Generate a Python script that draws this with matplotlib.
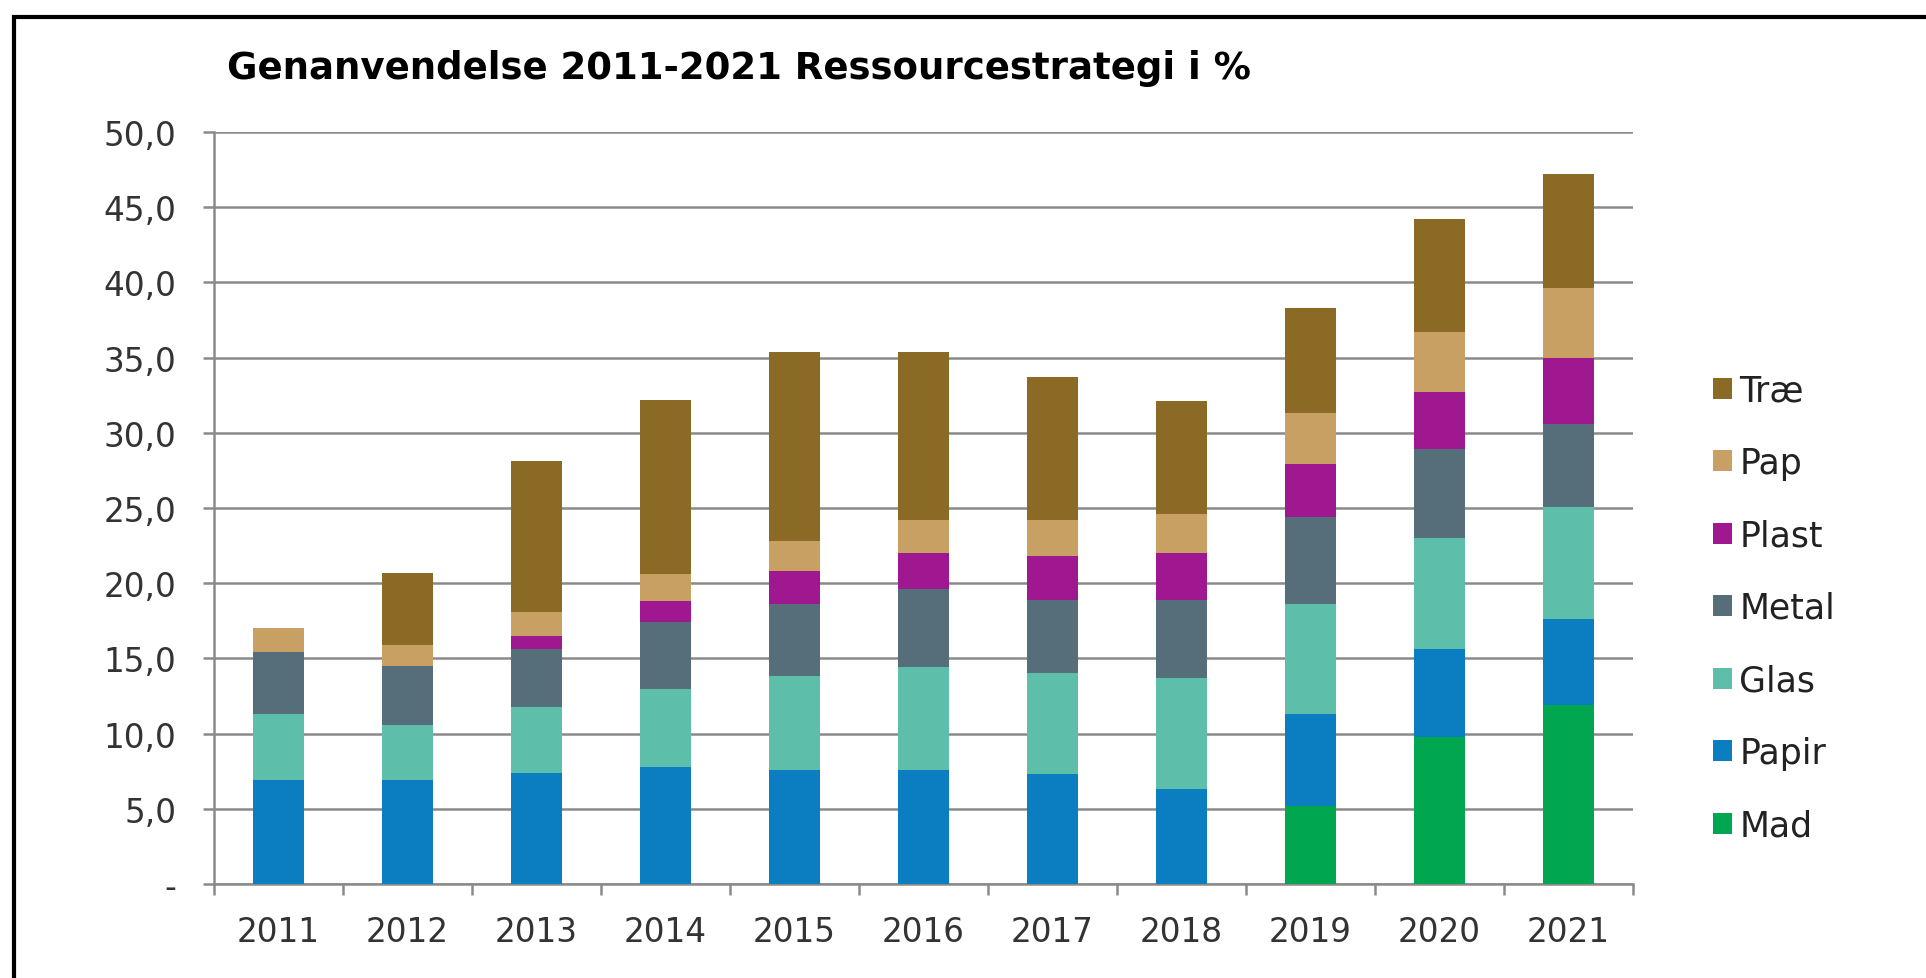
import numpy as np
import matplotlib
matplotlib.use('Agg')
import matplotlib.pyplot as plt
from matplotlib.patches import Rectangle

years = ['2011', '2012', '2013', '2014', '2015', '2016', '2017', '2018', '2019', '2020', '2021']

# segment values (%), stacked from the bottom up
mad   = [0.0, 0.0, 0.0, 0.0, 0.0, 0.0, 0.0, 0.0, 5.2, 9.8, 11.9]
papir = [6.9, 6.9, 7.4, 7.8, 7.6, 7.6, 7.3, 6.3, 6.1, 5.8, 5.7]
glas  = [4.4, 3.7, 4.4, 5.2, 6.2, 6.8, 6.7, 7.4, 7.3, 7.4, 7.5]
metal = [4.1, 3.9, 3.8, 4.4, 4.8, 5.2, 4.9, 5.2, 5.8, 5.9, 5.5]
plast = [0.0, 0.0, 0.9, 1.4, 2.2, 2.4, 2.9, 3.1, 3.5, 3.8, 4.4]
pap   = [1.6, 1.4, 1.6, 1.8, 2.0, 2.2, 2.4, 2.6, 3.4, 4.0, 4.6]
trae  = [0.0, 4.8, 10.0, 11.6, 12.6, 11.2, 9.5, 7.5, 7.0, 7.5, 7.6]

serier = [('Mad', mad, '#00A650'),
          ('Papir', papir, '#0B7DC1'),
          ('Glas', glas, '#5DBFA9'),
          ('Metal', metal, '#566E79'),
          ('Plast', plast, '#A0188F'),
          ('Pap', pap, '#C9A063'),
          ('Træ', trae, '#8B6A25')]

fig = plt.figure(figsize=(19.26, 9.79), dpi=100)
ax = fig.add_axes([0.1111, 0.0960, 0.8479 - 0.1111, 0.8641 - 0.0960])

x = np.arange(len(years))
bund = np.zeros(len(years))
handles = []
for navn, vaerdier, farve in serier:
    v = np.array(vaerdier)
    b = ax.bar(x, v, width=0.4, bottom=bund, color=farve, label=navn, zorder=3)
    handles.append(b)
    bund = bund + v

ax.set_xlim(-0.5, len(years) - 0.5)
ax.set_ylim(0, 50)

gray = '#8a8a8a'
ax.set_yticks(np.arange(0, 51, 5))
ax.set_yticklabels(['-' if t == 0 else f'{t:.1f}'.replace('.', ',') for t in np.arange(0, 51, 5)])
ax.yaxis.grid(True, color=gray, linewidth=1.8, zorder=0)
ax.set_axisbelow(True)

ax.set_xticks(np.arange(-0.5, len(years), 1.0))
ax.set_xticklabels([])
ax.set_xticks(x, minor=True)
ax.set_xticklabels(years, minor=True)
ax.tick_params(axis='x', which='minor', length=0, pad=22, labelsize=23.5, labelcolor='#333333')
ax.tick_params(axis='x', which='major', length=8, width=1.8, color=gray, direction='out')
ax.tick_params(axis='y', length=8, width=1.8, color=gray, pad=19, labelsize=23.5, labelcolor='#333333')

for s in ['top', 'right']:
    ax.spines[s].set_visible(False)
for s in ['left', 'bottom']:
    ax.spines[s].set_color(gray)
    ax.spines[s].set_linewidth(1.8)

fig.text(227 / 1926, 0.930, 'Genanvendelse 2011-2021 Ressourcestrategi i %',
         fontsize=26.7, fontweight='bold', ha='left', va='center', color='black')

fig.legend(handles[::-1], [s[0] for s in serier][::-1], loc='center left',
           bbox_to_anchor=(1682 / 1926, 1 - 609 / 979), frameon=False,
           fontsize=25, handlelength=0.55, handleheight=0.55, handletextpad=0.2,
           labelspacing=1.11, labelcolor='#222222')

fig.patches.append(Rectangle((14 / 1926, -0.05), 1.2, (979 - 18) / 979 + 0.05,
                             transform=fig.transFigure, fill=False,
                             edgecolor='black', linewidth=3, zorder=10))

fig.savefig('out.png', dpi=100, facecolor='white')
